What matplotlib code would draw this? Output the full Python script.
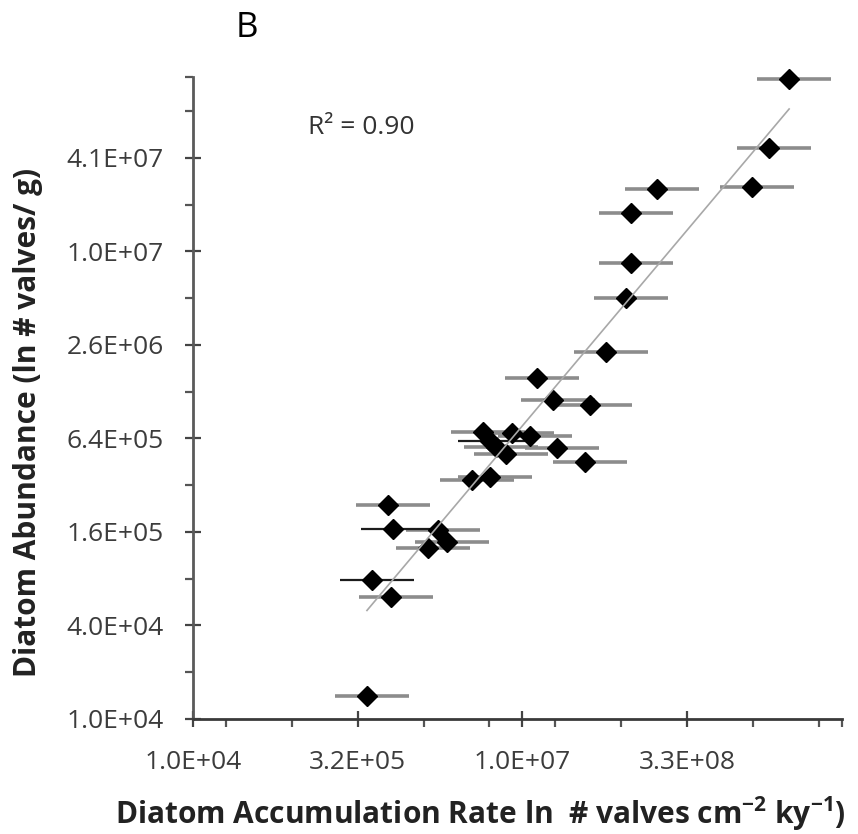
import numpy as np
import matplotlib
matplotlib.use("Agg")
import matplotlib.pyplot as plt
from matplotlib.ticker import FixedLocator, FuncFormatter, NullFormatter

# diatom accumulation rate (valves cm-2 ky-1) and abundance (valves / g)
acc_rate = [2.81e9, 1.84e9, 1.29e9, 1.74e8, 1.01e8, 1.01e8, 9.08e7, 5.96e7,
            1.39e7, 1.95e7, 4.26e7, 4.48e6, 5.19e6, 5.89e6, 8.24e6, 1.20e7,
            7.26e6, 2.12e7, 3.83e7, 3.55e6, 5.19e6, 6.06e5, 6.73e5, 1.74e6,
            2.10e6, 1.41e6, 4.33e5, 6.46e5, 3.89e5]
abundance = [1.32e8, 4.75e7, 2.67e7, 2.59e7, 1.81e7, 8.63e6, 5.14e6, 2.31e6,
             1.57e6, 1.13e6, 1.05e6, 7.05e5, 6.17e5, 5.64e5, 6.95e5, 6.64e5,
             5.09e5, 5.56e5, 4.52e5, 3.46e5, 3.62e5, 2.39e5, 1.67e5, 1.65e5,
             1.38e5, 1.26e5, 7.85e4, 6.10e4, 1.41e4]
# multiplicative uncertainty on the accumulation rate
err_down = 1.96
err_up = 2.42
dark_bars = [12, 22, 26]   # bars drawn darker in the original

x_major = [1.0e4, 3.2e5, 1.024e7, 3.2768e8]
y_major = [1.0e4, 4.0e4, 1.6e5, 6.4e5, 2.56e6, 1.024e7, 4.096e7]
xlim = (1.0e4, 8.55e9)
ylim = (1.0e4, 1.36e8)
r2_text = "R\u00b2 = 0.90"

plt.rcParams['font.family'] = ['Open Sans', 'DejaVu Sans']
plt.rcParams['mathtext.fontset'] = 'custom'
plt.rcParams['mathtext.rm'] = 'Open Sans:bold'

x = np.array(acc_rate)
y = np.array(abundance)
xerr = np.vstack([x - x / err_down, x * err_up - x])

fig = plt.figure(figsize=(8.58, 8.34), dpi=100)
W, H = 858.0, 834.0
ax = fig.add_axes([193 / W, 1 - 719 / H, (842 - 193) / W, (719 - 77) / H])

light = [i for i in range(len(x)) if i not in dark_bars]
ax.errorbar(x[light], y[light], xerr=xerr[:, light], fmt='none',
            ecolor='#8c8c8c', elinewidth=2.6, capsize=0, zorder=2)
ax.errorbar(x[dark_bars], y[dark_bars], xerr=xerr[:, dark_bars], fmt='none',
            ecolor='#1c1c1c', elinewidth=1.6, capsize=0, zorder=2)
ax.plot(x, y, linestyle='none', marker='D', markersize=10, color='black',
        zorder=3, clip_on=False)

# power-law trendline fitted in log space
p = np.polyfit(np.log10(x), np.log10(y), 1)
xt = np.array([x.min(), x.max()])
ax.plot(xt, 10 ** np.polyval(p, np.log10(xt)), color='#a8a8a8', lw=1.2, zorder=4)

ax.set_xscale('log')
ax.set_yscale('log')
ax.set_xlim(*xlim)
ax.set_ylim(*ylim)

x_minor = [2.0e4 * 4 ** k for k in range(10)] + [xlim[1]]
y_minor = [2.0e4 * 4 ** k for k in range(7)] + [ylim[1]]
ax.xaxis.set_major_locator(FixedLocator(x_major))
ax.yaxis.set_major_locator(FixedLocator(y_major))
ax.xaxis.set_minor_locator(FixedLocator(x_minor))
ax.yaxis.set_minor_locator(FixedLocator(y_minor))
fmt = FuncFormatter(lambda v, pos: "%.1E" % v)
ax.xaxis.set_major_formatter(fmt)
ax.yaxis.set_major_formatter(fmt)
ax.xaxis.set_minor_formatter(NullFormatter())
ax.yaxis.set_minor_formatter(NullFormatter())

for s in ['top', 'right']:
    ax.spines[s].set_visible(False)
ax.spines['left'].set_color('#5a5a5a')
ax.spines['bottom'].set_color('#3a3a3a')
ax.spines['left'].set_linewidth(2)
ax.spines['bottom'].set_linewidth(2)

ax.tick_params(axis='both', which='major', direction='inout', length=12,
               width=1.6, colors='#444444', labelsize=19, labelcolor='#3c3c3c')
ax.tick_params(axis='y', which='major', pad=15)
ax.tick_params(axis='x', which='major', pad=16)
ax.tick_params(axis='both', which='minor', direction='out', length=6,
               width=1.6, colors='#555555')

fig.text(247 / W, 1 - 28 / H, "B", ha='center', va='center', fontsize=25)
fig.text(308 / W, 1 - 128 / H, r2_text, ha='left', va='center', fontsize=19,
         color='#333333')
fig.text(480 / W, 1 - 814 / H,
         r"Diatom Accumulation Rate ln  # valves cm$^{-2}$ ky$^{-1}$)",
         ha='center', va='center', fontsize=21.5, fontweight='bold', color='#222222')
fig.text(28 / W, 1 - 422 / H, "Diatom Abundance (ln # valves/ g)",
         ha='center', va='center', rotation=90, fontsize=21.5, fontweight='bold',
         color='#222222')

fig.savefig("out.png", dpi=100)
